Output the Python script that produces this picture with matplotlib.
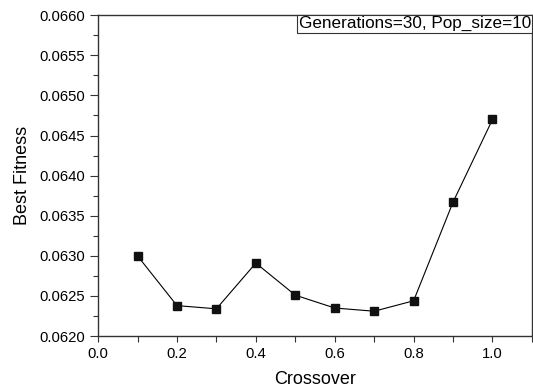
import matplotlib
matplotlib.use("Agg")
import matplotlib.pyplot as plt
from matplotlib.ticker import MultipleLocator, FormatStrFormatter

crossover = [0.1, 0.2, 0.3, 0.4, 0.5, 0.6, 0.7, 0.8, 0.9, 1.0]
best_fitness = [0.06300, 0.06238, 0.06234, 0.06291, 0.06251,
                0.06235, 0.06231, 0.06244, 0.06367, 0.06470]

plt.rcParams['font.family'] = ['Liberation Sans', 'DejaVu Sans']

fig = plt.figure(figsize=(5.33, 3.89), dpi=100)
ax = fig.add_axes([0.184, 0.136, 0.814, 0.825])

ax.plot(crossover, best_fitness, color='black', linewidth=0.8,
        marker='s', markersize=6, markerfacecolor='#111111',
        markeredgecolor='#111111')

ax.set_xlim(0.0, 1.1)
ax.set_ylim(0.0620, 0.0660)
ax.xaxis.set_major_locator(MultipleLocator(0.2))
ax.xaxis.set_minor_locator(MultipleLocator(0.1))
ax.yaxis.set_major_locator(MultipleLocator(0.0005))
ax.yaxis.set_minor_locator(MultipleLocator(0.00025))
ax.xaxis.set_major_formatter(FormatStrFormatter('%.1f'))
ax.yaxis.set_major_formatter(FormatStrFormatter('%.4f'))

ax.tick_params(which='both', direction='out', labelsize=10.7, color='#333333')
ax.tick_params(axis='x', which='major', length=4.5, width=0.8)
ax.tick_params(axis='x', which='minor', length=4, width=0.8)
ax.tick_params(axis='y', which='major', length=6, width=0.8)
ax.tick_params(axis='y', which='minor', length=3.5, width=0.8)
for s in ax.spines.values():
    s.set_linewidth(1.0)
    s.set_color('#333333')

ax.set_xlabel('Crossover', fontsize=13, labelpad=7)
ax.set_ylabel('Best Fitness', fontsize=13, labelpad=6)

ax.text(0.998, 0.997, 'Generations=30, Pop_size=10', transform=ax.transAxes,
        ha='right', va='top', fontsize=12.3,
        bbox=dict(boxstyle='square,pad=0.08', facecolor='white',
                  edgecolor='#333333', linewidth=0.8))

fig.savefig('out.png', dpi=100)
